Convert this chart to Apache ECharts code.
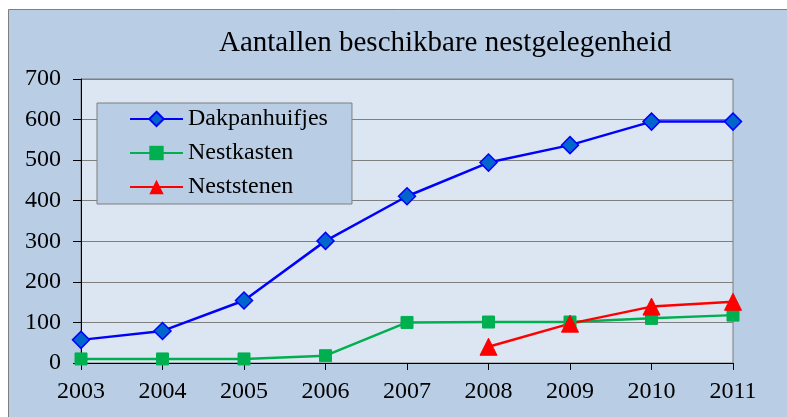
<!DOCTYPE html>
<html>
<head>
<meta charset="utf-8">
<script src="https://cdn.jsdelivr.net/npm/echarts@6/dist/echarts.min.js"></script>
<style>
  html, body { margin: 0; padding: 0; background: #fff; }
  #chart { width: 787px; height: 417px; }
</style>
</head>
<body>
<div id="chart"></div>
<script>
const years = ['2003', '2004', '2005', '2006', '2007', '2008', '2009', '2010', '2011']
const dakpanhuifjes = [57, 79, 154, 301, 411, 494, 537, 595, 595]
const nestkasten = [10, 10, 10, 18, 100, 101, 101, 110, 118]
const neststenen = ['-', '-', '-', '-', '-', 40, 97, 139, 151]

const serif = '"Liberation Serif", "DejaVu Serif", serif'

const myChart = echarts.init(document.getElementById('chart'))

const option = {
  animation: false,
  textStyle: { fontFamily: serif },
  graphic: [
    {
      type: 'rect',
      z: -10,
      shape: { x: 8.5, y: 9.5, width: 790, height: 420 },
      style: { fill: '#B9CDE5', stroke: '#7F7F7F', lineWidth: 1 }
    }
  ],
  title: {
    text: 'Aantallen beschikbare nestgelegenheid',
    left: 219,
    top: 29,
    padding: 0,
    textStyle: { fontFamily: serif, fontSize: 29, fontWeight: 'normal', color: '#000' }
  },
  legend: {
    orient: 'vertical',
    left: 97,
    top: 103,
    padding: [3, 24, 4, 32],
    itemWidth: 53,
    itemHeight: 18,
    itemGap: 8,
    backgroundColor: '#B9CDE5',
    borderColor: '#7F7F7F',
    borderWidth: 1,
    borderRadius: 0,
    textStyle: { fontFamily: serif, fontSize: 24, color: '#000', lineHeight: 26 },
    data: ['Dakpanhuifjes', 'Nestkasten', 'Neststenen']
  },
  grid: {
    left: 81,
    top: 79,
    width: 652,
    height: 284,
    show: true,
    backgroundColor: '#DCE6F2',
    borderColor: '#7F7F7F',
    borderWidth: 1
  },
  xAxis: {
    type: 'category',
    data: years,
    boundaryGap: false,
    axisLine: { lineStyle: { color: '#000', width: 1 } },
    axisTick: { show: true, length: 7, lineStyle: { color: '#000' } },
    axisLabel: { fontFamily: serif, fontSize: 24, color: '#000', margin: 17 }
  },
  yAxis: {
    type: 'value',
    min: 0,
    max: 700,
    interval: 100,
    axisLine: { show: true, lineStyle: { color: '#000', width: 1 } },
    axisTick: { show: true, length: 8, lineStyle: { color: '#000' } },
    axisLabel: { fontFamily: serif, fontSize: 24, color: '#000', margin: 20 },
    splitLine: { show: true, lineStyle: { color: '#7F7F7F', width: 1 } }
  },
  series: [
    {
      name: 'Dakpanhuifjes',
      type: 'line',
      data: dakpanhuifjes,
      symbol: 'diamond',
      symbolSize: 17,
      lineStyle: { color: '#0000FF', width: 2.5 },
      itemStyle: { color: '#0066CC', borderColor: '#0000FF', borderWidth: 1.5 }
    },
    {
      name: 'Nestkasten',
      type: 'line',
      data: nestkasten,
      symbol: 'rect',
      symbolSize: 12,
      lineStyle: { color: '#00B050', width: 2.5 },
      itemStyle: { color: '#00B050', borderColor: '#00B050' }
    },
    {
      name: 'Neststenen',
      type: 'line',
      data: neststenen,
      symbol: 'triangle',
      symbolSize: 17,
      lineStyle: { color: '#FF0000', width: 2.5 },
      itemStyle: { color: '#FF0000', borderColor: '#FF0000' }
    }
  ]
}

myChart.setOption(option)
</script>
</body>
</html>
